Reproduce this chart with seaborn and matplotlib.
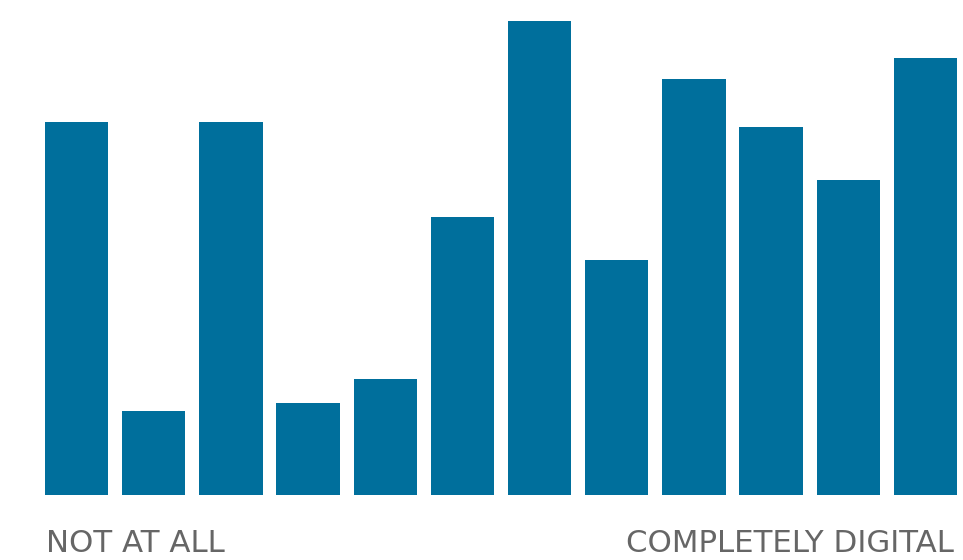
import matplotlib
matplotlib.use("Agg")
import matplotlib.pyplot as plt
import seaborn as sns
import pandas as pd

# Responses on a 12-step scale from "not at all" to "completely digital"
steps = list(range(1, 13))
counts = [373, 84, 373, 92, 116, 278, 474, 235, 416, 368, 315, 437]
left_label = "NOT AT ALL"
right_label = "COMPLETELY DIGITAL"

bar_color = "#006f9c"
text_color = "#666666"

sns.set_theme(style="white")
plt.rcParams["font.family"] = ["DejaVu Sans"]

df = pd.DataFrame({"step": steps, "count": counts})

fig = plt.figure(figsize=(9.63, 5.6), dpi=100)
ax = fig.add_axes([45 / 963, 65 / 560, 912 / 963, 474 / 560])

sns.barplot(data=df, x="step", y="count", color=bar_color, saturation=1,
            width=0.82, ax=ax, linewidth=0)

ax.set_xlim(-0.41, 11.41)
ax.set_ylim(0, max(counts))
ax.set_axis_off()

# End-of-scale captions under the first and last bars
fig.text(46 / 963, 1 - 552 / 560, left_label, ha="left", va="baseline",
         fontsize=22.2, color=text_color)
fig.text(954 / 963, 1 - 552 / 560, right_label, ha="right", va="baseline",
         fontsize=22.2, color=text_color)

fig.savefig("out.png", dpi=100, facecolor="white")
